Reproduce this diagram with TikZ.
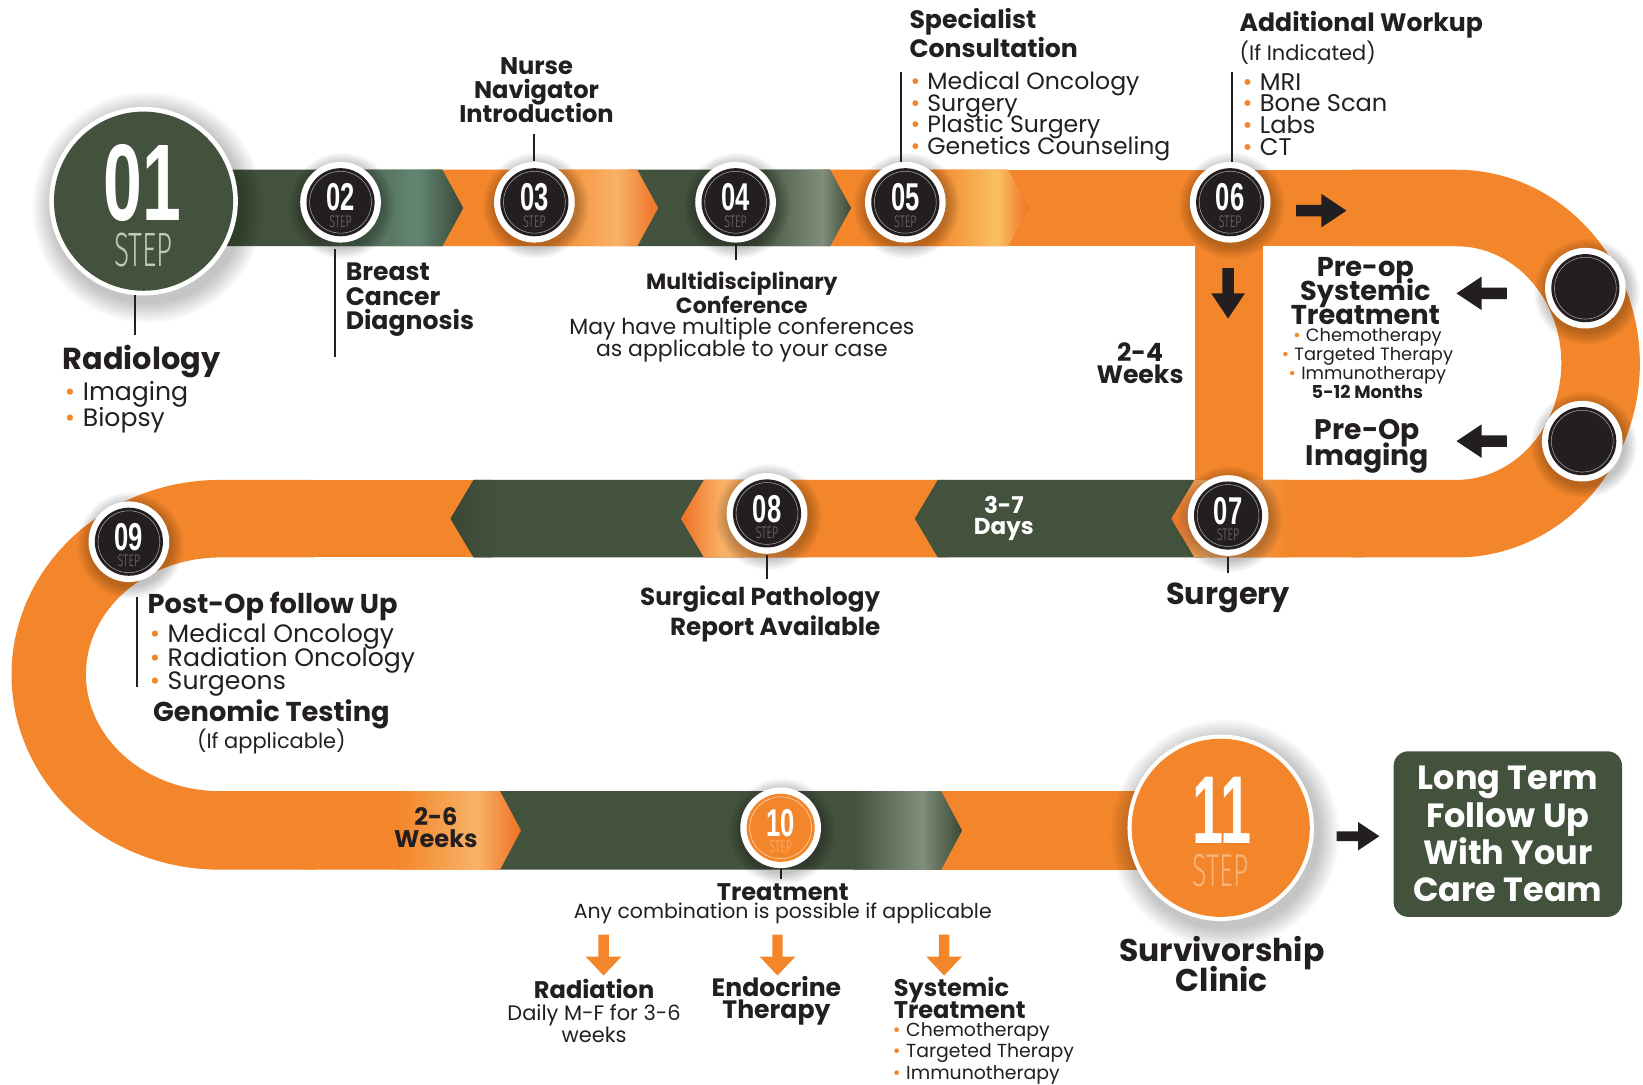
\documentclass[tikz,border=0pt]{standalone}
\usepackage{fontspec}
\setmainfont{Poppins}
\newfontfamily\numfont{Liberation Sans}
\newfontfamily\thinfont{Fira Sans Light}
\definecolor{orx}{HTML}{F3862B}
\definecolor{dor}{HTML}{EE6F22}
\definecolor{lor}{HTML}{F8B267}
\definecolor{ylw}{HTML}{F9C063}
\definecolor{grn}{HTML}{43523D}
\definecolor{grnd}{HTML}{394634}
\definecolor{lgrn}{HTML}{7F8F7B}
\definecolor{gteal}{HTML}{628672}
\definecolor{cdark}{HTML}{231F20}
\definecolor{txt}{HTML}{231F20}
\definecolor{stepgray}{HTML}{737373}
\definecolor{stepl}{HTML}{C3C8BF}
\definecolor{stepo}{HTML}{FAB57A}
\newcommand{\fsz}[2]{\fontsize{#1}{#2}\selectfont\lineskiplimit=-60pt\relax}
\newcommand{\bul}{{\color{orx}\textbullet}\hspace{0.3em}}
\tikzset{
  lead/.style={draw=txt,line width=1.8},
  tx/.style={inner sep=0,outer sep=0,text=txt},
  barrow/.pic={\fill[cdark] (-24,-5.5) -- (0,-5.5) -- (0,-16) -- (24,0) -- (0,16) -- (0,5.5) -- (-24,5.5) -- cycle;},
  oarrow/.pic={\fill[orx] (-20,-5) -- (1,-5) -- (1,-17) -- (19,0) -- (1,17) -- (1,5) -- (-20,5) -- cycle;},
}
\newcommand{\cshadow}[3]{%
  \foreach \i in {1,...,8}{\fill[black,opacity=0.03] (#1+1.5,#2+3.5) circle ({#3+\i*1.5});}}
\newcommand{\mkstep}[7]{%
  \cshadow{#2}{#3}{38.5}
  \fill[white] (#2,#3) circle (38.5);
  \fill[#5] (#2,#3) circle (32.5);
  \draw[#7,line width=0.5] (#2,#3) circle (29.5);
  \node[circle,minimum size=77,inner sep=0] (#1) at (#2,#3) {};
  \node[inner sep=0,text=white,font={\numfont\bfseries\fsz{37}{37}}] (#1n) at (#2,#3-4.5) {\scalebox{0.66}[1]{#4}};
  \node[inner sep=0,text=#6,font={\thinfont\fsz{16}{16}}] (#1s) at (#2,#3+18.5) {\scalebox{0.64}[1]{STEP}};
}
\newcommand{\mkblank}[3]{%
  \cshadow{#2}{#3}{38.5}
  \fill[white] (#2,#3) circle (38.5);
  \fill[cdark] (#2,#3) circle (32.5);
  \draw[white!60!cdark,line width=0.5] (#2,#3) circle (29.5);
  \node[circle,minimum size=77,inner sep=0] (#1) at (#2,#3) {};
}
\begin{document}
\begin{tikzpicture}[x=1pt,y=-1pt]
\useasboundingbox (0,0) rectangle (1568,1035);
\fill[white] (0,0) rectangle (1568,1035);

% ---------- right U turn, vertical bar ----------
\fill[orx] (1290,162) -- (1390,162) arc[start angle=-90,end angle=90,x radius=175,y radius=185]
  -- (1290,532) -- (1290,458) -- (1390,458) arc[start angle=90,end angle=-90,x radius=100,y radius=111.5]
  -- (1290,235) -- cycle;
\fill[orx] (960,162) rectangle (1300,235);
\fill[orx] (1140,230) rectangle (1205,462);

% ---------- top row chevrons ----------
\begin{scope}
\clip (785,162) -- (962,162) -- (982,198.5) -- (962,235) -- (785,235) -- cycle;
\fill[orx] (780,150) rectangle (990,250);
\shade[left color=orx,right color=ylw] (890,150) rectangle (952,250);
\shade[left color=ylw,right color=dor] (952,150) rectangle (983,250);
\end{scope}
\begin{scope}
\clip (600,162) -- (792,162) -- (812,198.5) -- (792,235) -- (600,235) -- cycle;
\fill[grn] (595,150) rectangle (815,250);
\shade[left color=grn,right color=lgrn] (720,150) rectangle (785,250);
\shade[left color=lgrn,right color=grnd] (785,150) rectangle (813,250);
\end{scope}
\begin{scope}
\clip (410,162) -- (608,162) -- (628,198.5) -- (608,235) -- (410,235) -- cycle;
\fill[orx] (405,150) rectangle (630,250);
\shade[left color=orx,right color=lor] (520,150) rectangle (588,250);
\shade[left color=lor,right color=dor] (588,150) rectangle (629,250);
\end{scope}
\begin{scope}
\clip (200,162) -- (422,162) -- (442,198.5) -- (422,235) -- (200,235) -- cycle;
\fill[grn] (195,150) rectangle (445,250);
\shade[left color=grn,right color=gteal] (300,150) rectangle (398,250);
\shade[left color=gteal,right color=grnd] (398,150) rectangle (443,250);
\end{scope}

% ---------- left U turn ----------
\fill[orx] (300,458) -- (210,458) arc[start angle=270,end angle=90,x radius=199,y radius=186]
  -- (300,830) -- (300,755) -- (210,755) arc[start angle=90,end angle=270,x radius=128,y radius=111.5]
  -- (210,532) -- (300,532) -- cycle;
\fill[orx] (290,458) rectangle (460,532);

% ---------- row 2 chevrons (pointing left) ----------
\begin{scope}
\clip (430,495) -- (452,458) -- (710,458) -- (710,532) -- (452,532) -- cycle;
\fill[grn] (425,450) rectangle (715,540);
\shade[left color=grnd,right color=grn] (429,450) rectangle (470,540);
\end{scope}
\begin{scope}
\clip (650,495) -- (672,458) -- (905,458) -- (905,532) -- (672,532) -- cycle;
\fill[orx] (645,450) rectangle (910,540);
\shade[left color=dor,right color=lor] (649,450) rectangle (690,540);
\shade[left color=lor,right color=orx] (690,450) rectangle (770,540);
\end{scope}
\fill[grn] (873,495) -- (895,458) -- (1150,458) -- (1150,532) -- (895,532) -- cycle;
\begin{scope}
\clip (1118,495) -- (1140,458) -- (1300,458) -- (1300,532) -- (1140,532) -- cycle;
\fill[orx] (1115,450) rectangle (1305,540);
\shade[left color=dor,right color=lor] (1117,450) rectangle (1150,540);
\shade[left color=lor,right color=orx] (1150,450) rectangle (1230,540);
\end{scope}

% ---------- row 3 chevrons (pointing right) ----------
\fill[orx] (890,755) rectangle (1100,830);
\begin{scope}
\clip (470,755) -- (898,755) -- (918,792.5) -- (898,830) -- (470,830) -- cycle;
\fill[grn] (465,750) rectangle (920,835);
\shade[left color=grn,right color=lgrn] (815,750) rectangle (880,835);
\shade[left color=lgrn,right color=grnd] (880,750) rectangle (919,835);
\end{scope}
\begin{scope}
\clip (290,755) -- (477,755) -- (497,792.5) -- (477,830) -- (290,830) -- cycle;
\fill[orx] (285,750) rectangle (500,835);
\shade[left color=orx,right color=lor] (380,750) rectangle (455,835);
\shade[left color=lor,right color=dor] (455,750) rectangle (498,835);
\end{scope}

% ---------- step circles ----------
\foreach \i in {1,...,10}{\fill[black,opacity=0.025] (141,198) circle ({90+\i*2});}
\fill[white] (137,192) circle (90);
\fill[grn] (137,192) circle (85.5);
\node[circle,minimum size=180,inner sep=0] (c01) at (137,192) {};
\node[inner sep=0,text=white,font={\numfont\bfseries\fsz{104}{104}}] (c01n) at (136,175) {\scalebox{0.64}[1]{01}};
\node[inner sep=0,text=stepl,font={\thinfont\fsz{46}{46}}] (c01s) at (137,239) {\scalebox{0.58}[1]{STEP}};

\mkstep{c02}{325}{193}{02}{cdark}{stepgray}{white!60!cdark}
\mkstep{c03}{510}{193}{03}{cdark}{stepgray}{white!60!cdark}
\mkstep{c04}{702}{193}{04}{cdark}{stepgray}{white!60!cdark}
\mkstep{c05}{864}{193}{05}{cdark}{stepgray}{white!60!cdark}
\mkstep{c06}{1174}{193}{06}{cdark}{stepgray}{white!60!cdark}
\mkblank{b1}{1513}{275}
\mkblank{b2}{1510}{421}
\mkstep{c07}{1172}{492}{07}{cdark}{stepgray}{white!60!cdark}
\mkstep{c08}{732}{490}{08}{cdark}{stepgray}{white!60!cdark}
\mkstep{c09}{123}{517}{09}{cdark}{stepgray}{white!60!cdark}
\mkstep{c10}{745}{790}{10}{orx}{stepo}{white!70!orx}

\foreach \i in {1,...,10}{\fill[black,opacity=0.025] (1169,796) circle ({89+\i*2});}
\fill[white] (1165,790) circle (89);
\fill[orx] (1165,790) circle (85);
\node[circle,minimum size=178,inner sep=0] (c11) at (1165,790) {};
\node[inner sep=0,text=white,font={\numfont\bfseries\fsz{92}{92}}] (c11n) at (1166,773) {\scalebox{0.58}[1]{11}};
\node[inner sep=0,text=stepo,font={\thinfont\fsz{44}{44}}] (c11s) at (1165,831) {\scalebox{0.58}[1]{STEP}};

% ---------- leader lines ----------
\draw[lead] (c01.265) -- ++(0,38);
\draw[lead] (c02.south) ++(-5,6) -- ++(0,103);
\draw[lead] (c03.north) ++(0,-1) -- ++(0,-25);
\draw[lead] (c04.south) ++(0,1) -- ++(0,15);
\draw[lead] (c05.north) ++(-4,0) -- ++(0,-86);
\draw[lead] (c06.north) ++(2,0) -- ++(0,-86);
\draw[lead] (c07.south) ++(0,1) -- ++(0,15);
\draw[lead] (c08.south) ++(0,1) -- ++(0,23);
\draw[lead] (c10.south) ++(0,1) -- ++(0,9);
\coordinate (p09a) at (131,570);
\coordinate (p09b) at (131,656);
\draw[lead] (p09a) -- (p09b);

% ---------- arrows ----------
\pic at (1261,201) {barrow};
\pic[rotate=-90] at (1172,280) {barrow};
\pic[rotate=180] at (1414,280) {barrow};
\pic[rotate=180] at (1414,421) {barrow};
\pic[scale=0.85] at (1296,798) {barrow};
\pic[rotate=-90] at (576,912) {oarrow};
\pic[rotate=-90] at (742,912) {oarrow};
\pic[rotate=-90] at (901,912) {oarrow};

% ---------- texts ----------
\node[tx,align=center,font={\bfseries\fsz{23}{23}}] (tnurse) at (512,86) {Nurse\\Navigator\\Introduction};
\node[tx,anchor=west,align=left,font={\bfseries\fsz{24}{27}}] (tspec) at (868,31.5) {Specialist\\Consultation};
\node[tx,anchor=west,align=left,font={\fsz{22.5}{20.7}}] (tspecl) at (869,111) {\bul Medical Oncology\\\bul Surgery\\\bul Plastic Surgery\\\bul Genetics Counseling};
\node[tx,anchor=west,font={\bfseries\fsz{24}{24}}] (twork) at (1183,24) {Additional Workup};
\node[tx,anchor=west,font={\fsz{20}{20}}] (tworki) at (1183,50) {(If Indicated)};
\node[tx,anchor=west,align=left,font={\fsz{23}{20.7}}] (tworkl) at (1186,109) {\bul MRI\\\bul Bone Scan\\\bul Labs\\\bul CT};

\node[tx,anchor=west,align=left,font={\bfseries\fsz{24}{23.5}}] (tbreast) at (330,286) {Breast\\Cancer\\Diagnosis};
\node[tx,anchor=west,font={\bfseries\fsz{29}{29}}] (trad) at (60,345) {Radiology};
\node[tx,anchor=west,align=left,font={\fsz{24}{25}}] (tradl) at (62,388.5) {\bul Imaging\\\bul Biopsy};
\node[tx,align=center,font={\bfseries\fsz{21}{23}}] (tmulti) at (708,279) {Multidisciplinary\\Conference};
\node[tx,align=center,font={\fsz{21}{21}}] (tmultid) at (708,324) {May have multiple conferences\\as applicable to your case};

\node[tx,align=center,font={\bfseries\fsz{24}{21}}] (t24) at (1088,347) {2-4\\Weeks};
\node[tx,align=center,font={\bfseries\fsz{26}{23}}] (tpreop) at (1303,278) {Pre-op\\Systemic\\Treatment};
\node[tx,align=center,font={\fsz{17}{18}}] (tpreopl) at (1305,347) {\bul Chemotherapy\\\bul Targeted Therapy\\\bul Immunotherapy\\\textbf{5-12 Months}};
\node[tx,align=center,font={\bfseries\fsz{27}{25}}] (tpreimg) at (1305,426) {Pre-Op\\Imaging};

\node[tx,text=white,align=center,font={\bfseries\fsz{22}{20}}] (t37) at (958,495) {3-7\\Days};
\node[tx,font={\bfseries\fsz{29}{29}}] (tsurg) at (1172,571) {Surgery};
\node[tx,anchor=east,align=right,font={\bfseries\fsz{23.5}{29}}] (tpath) at (840,586) {Surgical Pathology\\Report Available};

\node[tx,anchor=west,font={\bfseries\fsz{26}{26}}] (tpost) at (141,579) {Post-Op follow Up};
\node[tx,anchor=west,align=left,font={\fsz{24}{22.5}}] (tpostl) at (143,630) {\bul Medical Oncology\\\bul Radiation Oncology\\\bul Surgeons};
\node[tx,font={\bfseries\fsz{26}{26}}] (tgen) at (259,682) {Genomic Testing};
\node[tx,font={\fsz{20}{20}}] (tgeni) at (259,708) {(If applicable)};

\node[tx,align=center,font={\bfseries\fsz{23}{21}}] (t26) at (416,790) {2-6\\Weeks};
\node[tx,font={\bfseries\fsz{23}{23}}] (ttreat) at (747,851) {Treatment};
\node[tx,font={\fsz{19.5}{20}}] (ttreatd) at (747,872) {Any combination is possible if applicable};

\node[tx,font={\bfseries\fsz{23}{23}}] (trdn) at (567,944) {Radiation};
\node[tx,align=center,font={\fsz{20}{21}}] (trdnd) at (567,977) {Daily M-F for 3-6\\weeks};
\node[tx,align=center,font={\bfseries\fsz{24}{21}}] (tendo) at (741,955) {Endocrine\\Therapy};
\node[tx,anchor=west,align=left,font={\bfseries\fsz{23}{21}}] (tsys) at (853,952) {Systemic\\Treatment};
\node[tx,anchor=west,align=left,font={\fsz{18}{20.5}}] (tsysl) at (852,1005) {\bul Chemotherapy\\\bul Targeted Therapy\\\bul Immunotherapy};

\node[tx,align=center,font={\bfseries\fsz{30}{28}}] (tsurv) at (1166,920) {Survivorship\\Clinic};
\node[fill=grn,rounded corners=14,minimum width=218,minimum height=158,inner sep=0,text=white,align=center,font={\bfseries\fsz{32}{35.5}}] (ltf) at (1439,796) {Long Term\\Follow Up\\With Your\\Care Team};
\end{tikzpicture}
\end{document}
